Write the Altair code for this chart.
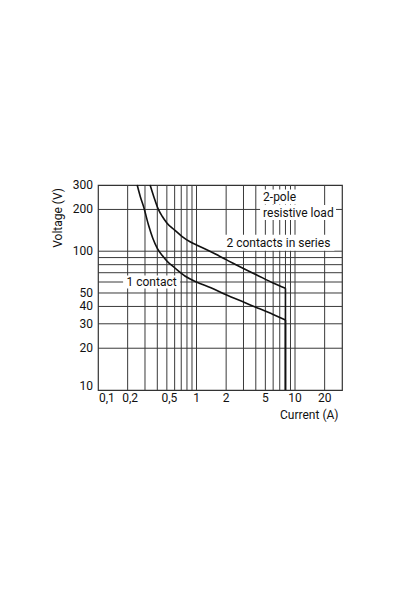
import altair as alt
import pandas as pd

FONT = "Roboto"
FS = 12

# Curve: 1 contact
one_x = [0.25, 0.27, 0.29, 0.325, 0.36, 0.4, 0.45, 0.5, 0.6, 0.77, 1, 1.4, 2, 3, 4, 6, 8]
one_y = [300, 245, 210, 155, 124, 105, 93, 85, 76, 66, 60, 54.5, 48.5, 43, 39.5, 35, 32]
# Curve: 2 contacts in series
two_x = [0.338, 0.37, 0.41, 0.45, 0.5, 0.6, 0.71, 0.86, 1, 1.4, 2, 3, 4, 6, 8]
two_y = [300, 245, 200, 178, 160, 142, 128, 117, 111, 99, 87, 75, 68, 59, 54]
# vertical drop at the current limit
limit_x = [8, 8]
limit_top = [32, 54]
limit_bottom = [10, 10]

# grid values
x_grid = [0.2, 0.3, 0.4, 0.5, 0.6, 0.7, 0.8, 0.9, 1, 2, 3, 4, 5, 6, 7, 8, 9, 10, 20]
y_grid = [20, 30, 40, 50, 60, 70, 80, 90, 100, 200]
# tick labels
x_ticks = [0.1, 0.2, 0.5, 1, 2, 5, 10, 20]
x_labels = ["0,1", "0,2", "0,5", "1", "2", "5", "10", "20"]
y_ticks = [10, 20, 30, 40, 50, 100, 200, 300]
y_labels = ["10", "20", "30", "40", "50", "100", "200", "300"]
x_title = "Current (A)"
y_title = "Voltage (V)"

# annotations
ann_text = ["2-pole", "resistive load", "2 contacts in series", "1 contact"]
ann_x = [4.74, 4.74, 6.78, 0.35]
ann_y = [246, 190, 115, 60]
ann_align = ["left", "left", "center", "center"]
ann_w = [33, 70, 104, 49]
ann_h = [15, 15, 16, 13]

XMIN, XMAX, YMIN, YMAX = 0.1, 30, 10, 300

curves = pd.DataFrame(
    {"x": one_x + two_x, "y": one_y + two_y,
     "s": ["one"] * len(one_x) + ["two"] * len(two_x)}
)
limits = pd.DataFrame({"x": limit_x, "y": limit_top, "y2": limit_bottom})
xg = pd.DataFrame({"x": x_grid})
yg = pd.DataFrame({"y": y_grid})

xs = alt.Scale(type="log", domain=[XMIN, XMAX], nice=False)
ys = alt.Scale(type="log", domain=[YMIN, YMAX], nice=False)


def X(f="x"):
    return alt.X(f"{f}:Q", scale=xs, axis=None)


def Y(f="y"):
    return alt.Y(f"{f}:Q", scale=ys, axis=None)


GRID = "#3a3a3a"
INK = "#111"

layers = []
layers.append(alt.Chart(xg).mark_rule(color=GRID, strokeWidth=1).encode(x=X()))
layers.append(alt.Chart(yg).mark_rule(color=GRID, strokeWidth=1).encode(y=Y()))

# annotation boxes and texts
for t, x, y, a, w, h in zip(ann_text, ann_x, ann_y, ann_align, ann_w, ann_h):
    d = pd.DataFrame({"x": [x], "y": [y], "t": [t]})
    if a == "left":
        x0, x1 = -3, w + 3
    else:
        x0, x1 = -w / 2 - 4, w / 2 + 4
    layers.append(
        alt.Chart(d).mark_rect(
            color="white", xOffset=x0, x2Offset=x1,
            yOffset=-h / 2, y2Offset=h / 2,
        ).encode(x=X(), x2="x:Q", y=Y(), y2="y:Q")
    )
    layers.append(
        alt.Chart(d).mark_text(font=FONT, fontSize=FS, color=INK,
                               align=a, baseline="middle").encode(
            x=X(), y=Y(), text="t:N")
    )

# curves
layers.append(
    alt.Chart(curves).mark_line(color=INK, strokeWidth=1.6, interpolate="monotone")
    .encode(x=X(), y=Y(), detail="s:N")
)
layers.append(
    alt.Chart(limits).mark_rule(color=INK, strokeWidth=1.6)
    .encode(x=X(), y=Y(), y2="y2:Q")
)

# y tick labels
ylab = pd.DataFrame({"y": y_ticks, "t": y_labels, "x": [XMIN] * len(y_ticks)})
layers.append(
    alt.Chart(ylab[ylab["y"] != YMIN]).mark_text(
        font=FONT, fontSize=FS, color=INK, align="right", baseline="middle", dx=-5
    ).encode(x=X(), y=Y(), text="t:N")
)
layers.append(
    alt.Chart(ylab[ylab["y"] == YMIN]).mark_text(
        font=FONT, fontSize=FS, color=INK, align="right", baseline="alphabetic", dx=-5
    ).encode(x=X(), y=Y(), text="t:N")
)

# x tick labels
xlab = pd.DataFrame({"x": x_ticks, "t": x_labels, "y": [YMIN] * len(x_ticks)})
layers.append(
    alt.Chart(xlab[xlab["x"] == XMIN]).mark_text(
        font=FONT, fontSize=FS, color=INK, align="left", baseline="top", dy=3, dx=1
    ).encode(x=X(), y=Y(), text="t:N")
)
layers.append(
    alt.Chart(xlab[(xlab["x"] > XMIN) & (xlab["x"] < 1)]).mark_text(
        font=FONT, fontSize=FS, color=INK, align="center", baseline="top", dy=3, dx=2.5
    ).encode(x=X(), y=Y(), text="t:N")
)
layers.append(
    alt.Chart(xlab[xlab["x"] >= 1]).mark_text(
        font=FONT, fontSize=FS, color=INK, align="center", baseline="top", dy=3
    ).encode(x=X(), y=Y(), text="t:N")
)

# axis titles
xt = pd.DataFrame({"x": [XMAX], "y": [YMIN], "t": [x_title]})
layers.append(
    alt.Chart(xt).mark_text(
        font=FONT, fontSize=FS, color=INK, align="right", baseline="alphabetic",
        dx=-3.5, dy=29
    ).encode(x=X(), y=Y(), text="t:N")
)
yt = pd.DataFrame({"x": [XMIN], "y": [YMAX], "t": [y_title]})
layers.append(
    alt.Chart(yt).mark_text(
        font=FONT, fontSize=FS, color=INK, align="right", baseline="middle",
        angle=270, dx=-3, dy=-40
    ).encode(x=X(), y=Y(), text="t:N")
)

chart = alt.layer(*layers).properties(
    width=244, height=205,
    autosize=alt.AutoSizeParams(type="none"),
    padding={"left": 90, "top": 177, "right": 10, "bottom": 60},
    background="white",
).configure_view(stroke="#333", strokeWidth=1.2)

chart.save("out.html", embed_options={"renderer": "svg", "actions": False})
